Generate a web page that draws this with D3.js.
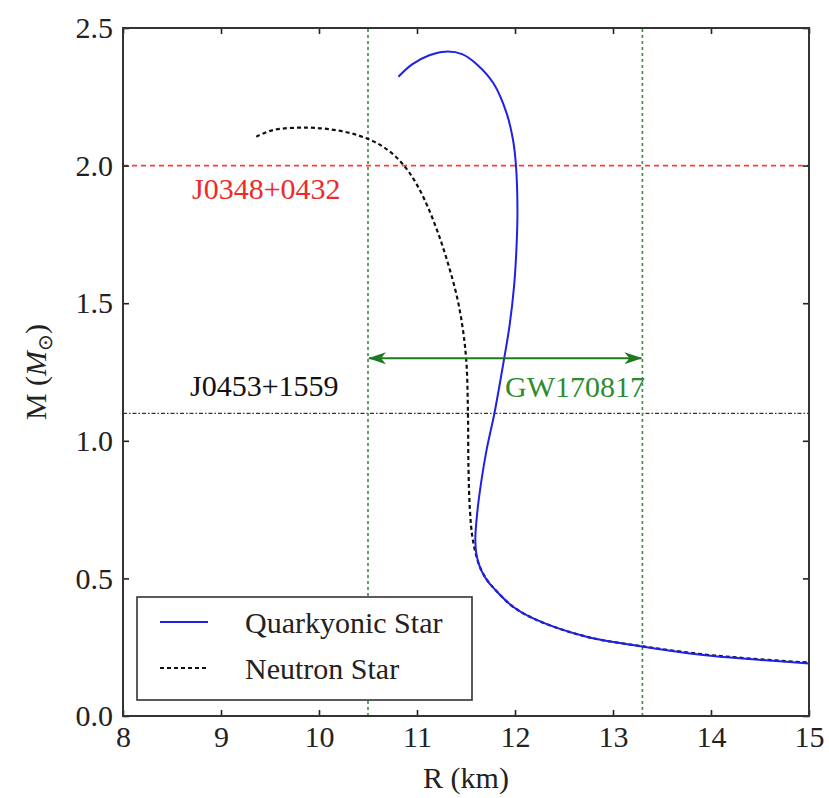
<!DOCTYPE html>
<html>
<head>
<meta charset="utf-8">
<script src="https://cdn.jsdelivr.net/npm/d3@7"></script>
<style>
body { margin: 0; background: #fff; }
text { font-family: "Liberation Serif", "Times New Roman", serif; }
</style>
</head>
<body>
<div id="chart"></div>
<script>
// mass-radius curves
var quarkR = [10.81, 10.95, 11.12, 11.29, 11.46, 11.62, 11.78, 11.915, 11.98, 12.01, 12.025, 12.015, 11.99, 11.945, 11.89, 11.79, 11.71, 11.655, 11.615, 11.595, 11.61, 11.655, 11.72, 11.80, 11.98, 12.22, 12.73, 13.31, 13.92, 14.43, 15.0];
var quarkM = [2.323, 2.368, 2.400, 2.414, 2.405, 2.365, 2.299, 2.19, 2.093, 2.0, 1.84, 1.70, 1.56, 1.42, 1.30, 1.10, 0.967, 0.85, 0.74, 0.64, 0.58, 0.53, 0.49, 0.458, 0.397, 0.349, 0.288, 0.252, 0.222, 0.206, 0.191];
var neutronR = [9.36, 9.53, 9.87, 10.15, 10.40, 10.60, 10.76, 10.89, 11.00, 11.11, 11.22, 11.32, 11.41, 11.47, 11.505, 11.52, 11.525, 11.54, 11.57, 11.64, 11.72, 11.80, 11.98, 12.22, 12.73, 13.31, 13.92, 14.43, 15.0];
var neutronM = [2.105, 2.129, 2.138, 2.130, 2.110, 2.08, 2.04, 1.99, 1.93, 1.85, 1.75, 1.64, 1.52, 1.40, 1.28, 1.10, 0.906, 0.749, 0.64, 0.543, 0.492, 0.458, 0.397, 0.349, 0.288, 0.253, 0.224, 0.208, 0.194];

var xTicks = [8, 9, 10, 11, 12, 13, 14, 15];
var yTicks = [0, 0.5, 1.0, 1.5, 2.0, 2.5];

// observational constraints
var pulsarHeavy = 2.0;   // J0348+0432
var pulsarLight = 1.1;   // J0453+1559
var gwRange = [10.5, 13.3];
var gwArrowM = 1.3;

var W = 829, H = 798;
var pL = 123, pR = 809, pT = 28, pB = 716;

var svg = d3.select("#chart").append("svg")
  .attr("width", W)
  .attr("height", H)
  .style("font-family", "'Liberation Serif', serif");

var x = d3.scaleLinear().domain([8, 15]).range([pL, pR]);
var y = d3.scaleLinear().domain([0, 2.5]).range([pB, pT]);

var defs = svg.append("defs");
defs.append("clipPath").attr("id", "clip")
  .append("rect")
  .attr("x", pL).attr("y", pT)
  .attr("width", pR - pL).attr("height", pB - pT);

["start", "end"].forEach(function(k) {
  defs.append("marker")
    .attr("id", "arr-" + k)
    .attr("markerUnits", "userSpaceOnUse")
    .attr("viewBox", "0 0 18 14")
    .attr("refX", k == "end" ? 17 : 1)
    .attr("refY", 7)
    .attr("markerWidth", 18)
    .attr("markerHeight", 14)
    .attr("orient", "auto")
    .append("path")
    .attr("d", k == "end" ? "M0,1 L18,7 L0,13 L5,7 Z" : "M18,1 L0,7 L18,13 L13,7 Z")
    .attr("fill", "#1f7a1f");
});

var plot = svg.append("g").attr("clip-path", "url(#clip)");

// constraint lines
plot.append("line")
  .attr("x1", x(8)).attr("x2", x(15))
  .attr("y1", y(pulsarHeavy)).attr("y2", y(pulsarHeavy))
  .style("stroke", "#ff3b3b").style("stroke-width", 1.6)
  .style("stroke-dasharray", "5,4");

plot.append("line")
  .attr("x1", x(8)).attr("x2", x(15))
  .attr("y1", y(pulsarLight)).attr("y2", y(pulsarLight))
  .style("stroke", "#333").style("stroke-width", 1.3)
  .style("stroke-dasharray", "4,2,1.5,2");

plot.selectAll(".gw")
  .data(gwRange)
  .enter().append("line")
  .attr("class", "gw")
  .attr("x1", function(d) { return x(d); })
  .attr("x2", function(d) { return x(d); })
  .attr("y1", y(0)).attr("y2", y(2.5))
  .style("stroke", "#3c9a3c").style("stroke-width", 1.7)
  .style("stroke-dasharray", "3,3");

var line = d3.line()
  .x(function(d) { return x(d[0]); })
  .y(function(d) { return y(d[1]); })
  .curve(d3.curveCatmullRom.alpha(0.5));

plot.append("path")
  .datum(d3.zip(neutronR, neutronM))
  .attr("d", line)
  .style("fill", "none")
  .style("stroke", "#111")
  .style("stroke-width", 2.2)
  .style("stroke-dasharray", "4,3");

plot.append("path")
  .datum(d3.zip(quarkR, quarkM))
  .attr("d", line)
  .style("fill", "none")
  .style("stroke", "#2020e8")
  .style("stroke-width", 2);

// GW170817 arrow
svg.append("line")
  .attr("x1", x(gwRange[0]) + 1).attr("x2", x(gwRange[1]) - 1)
  .attr("y1", y(gwArrowM)).attr("y2", y(gwArrowM))
  .style("stroke", "#1f7a1f").style("stroke-width", 2.2)
  .attr("marker-start", "url(#arr-start)")
  .attr("marker-end", "url(#arr-end)");

// annotations
svg.append("text")
  .attr("x", 192).attr("y", 199)
  .style("font-size", "30px").style("fill", "#ee2a2a")
  .text("J0348+0432");

svg.append("text")
  .attr("x", 190).attr("y", 396)
  .style("font-size", "30px").style("fill", "#111")
  .text("J0453+1559");

svg.append("text")
  .attr("x", 505).attr("y", 397)
  .style("font-size", "30px").style("fill", "#2e8b2e")
  .text("GW170817");

// axes with inward ticks
function styleAxis(g) {
  g.select(".domain").remove();
  g.selectAll(".tick line").style("stroke", "#222").style("stroke-width", 1.6);
  g.selectAll(".tick text").style("font-size", "30px").style("fill", "#222")
    .style("font-family", "'Liberation Serif', serif");
}

svg.append("g")
  .attr("transform", "translate(0," + pB + ")")
  .call(d3.axisBottom(x).tickValues(xTicks).tickFormat(d3.format("d"))
    .tickSizeInner(-6).tickSizeOuter(0).tickPadding(10))
  .call(styleAxis);

svg.append("g")
  .attr("transform", "translate(0," + pT + ")")
  .call(d3.axisTop(x).tickValues(xTicks).tickFormat("")
    .tickSizeInner(-6).tickSizeOuter(0))
  .call(styleAxis);

svg.append("g")
  .attr("transform", "translate(" + pL + ",0)")
  .call(d3.axisLeft(y).tickValues(yTicks).tickFormat(d3.format(".1f"))
    .tickSizeInner(-6).tickSizeOuter(0).tickPadding(10))
  .call(styleAxis);

svg.append("g")
  .attr("transform", "translate(" + pR + ",0)")
  .call(d3.axisRight(y).tickValues(yTicks).tickFormat("")
    .tickSizeInner(-6).tickSizeOuter(0))
  .call(styleAxis);

// frame
svg.append("rect")
  .attr("x", pL).attr("y", pT)
  .attr("width", pR - pL).attr("height", pB - pT)
  .style("fill", "none").style("stroke", "#333").style("stroke-width", 2);

// axis titles
svg.append("text")
  .attr("x", (pL + pR) / 2).attr("y", 788)
  .attr("text-anchor", "middle")
  .style("font-size", "30px").style("fill", "#222")
  .text("R (km)");

var yl = svg.append("text")
  .attr("transform", "translate(46," + ((pT + pB) / 2) + ") rotate(-90)")
  .attr("text-anchor", "middle")
  .style("font-size", "30px").style("fill", "#222");
yl.append("tspan").text("M (");
yl.append("tspan").style("font-style", "italic").text("M");
yl.append("tspan").attr("dy", 6).style("font-size", "20px").text("\u2299");
yl.append("tspan").attr("dy", -6).text(")");

// legend
var lg = svg.append("g");
lg.append("rect")
  .attr("x", 137).attr("y", 597)
  .attr("width", 335).attr("height", 103)
  .style("fill", "#fff").style("stroke", "#333").style("stroke-width", 1.6);

var legendItems = [
  { label: "Quarkyonic Star", color: "#2020e8", dash: null, w: 2 },
  { label: "Neutron Star", color: "#111", dash: "4,3", w: 2 }
];

legendItems.forEach(function(d, i) {
  var yy = 622 + i * 46;
  lg.append("line")
    .attr("x1", 160).attr("x2", 208)
    .attr("y1", yy).attr("y2", yy)
    .style("stroke", d.color).style("stroke-width", d.w)
    .style("stroke-dasharray", d.dash);
  lg.append("text")
    .attr("x", 245).attr("y", yy + 11)
    .style("font-size", "30px").style("fill", "#222")
    .text(d.label);
});
</script>
</body>
</html>
